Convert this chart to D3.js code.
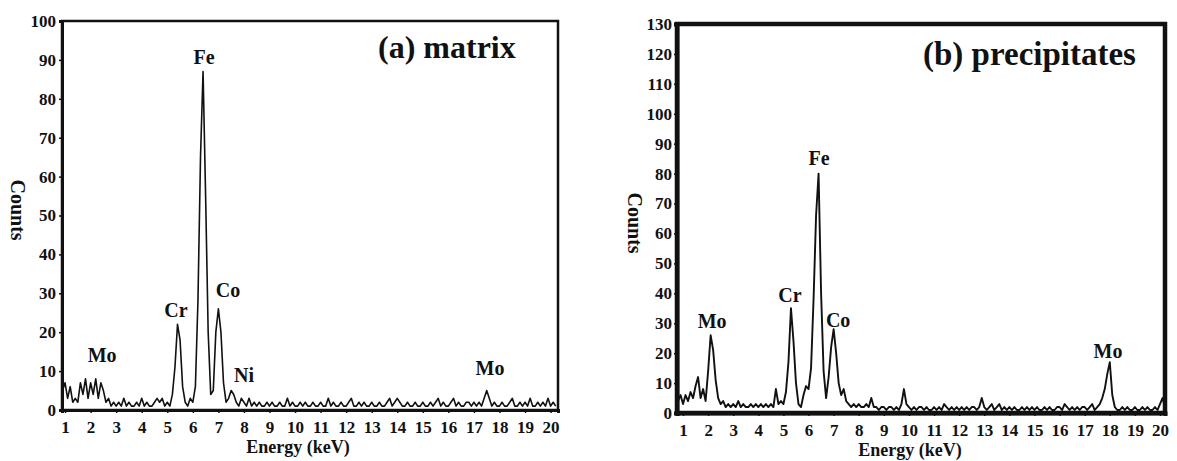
<!DOCTYPE html>
<html><head><meta charset="utf-8">
<script src="https://cdn.jsdelivr.net/npm/d3@7/dist/d3.min.js"></script>
<style>
body{margin:0;background:#fff}
text{font-family:"Liberation Serif","Times New Roman",serif;font-weight:bold;fill:#111}
</style>
</head><body>
<svg id="chart" width="1177" height="461"></svg>
<script>
// ---------- data ----------
const xTickLabels = [1,2,3,4,5,6,7,8,9,10,11,12,13,14,15,16,17,18,19,20];
const yTicksMatrix = [0,10,20,30,40,50,60,70,80,90,100];
const yTicksPrecip = [0,10,20,30,40,50,60,70,80,90,100,110,120,130];
const channelStep = 0.1;           // keV per channel
const matrixStart = 0.9;           // keV of first channel
const precipStart = 0.8;

const matrixCounts = [
  5,
  7,3,6,2,3,2,7,4,8,3,
  7,4,8,3,7,5,2,3,1,2,
  1,2,1,3,1,2,1,1,2,1,
  3,1,2,1,1,2,3,2,3,1,
  2,1,4,11,22,18,6,2,1,3,
  2,6,28,65,87,55,20,4,5,20,
  26,20,7,2,3,5,4,2,1,3,
  2,1,3,1,2,1,2,1,1,2,
  1,2,1,1,2,1,1,3,1,2,
  1,1,2,1,2,1,1,2,1,1,
  2,1,1,3,1,2,1,1,2,1,
  1,2,3,1,1,2,1,2,1,1,
  2,1,1,2,1,1,2,3,1,2,
  3,2,1,1,2,1,1,2,1,1,
  2,1,1,2,1,2,3,1,2,1,
  1,2,3,1,2,1,1,2,2,1,
  2,1,2,1,3,5,3,1,2,1,
  1,2,1,1,2,3,1,1,2,1,
  2,1,3,1,1,2,1,2,1,3,
  1,2,1
];

const precipCounts = [
  4,6,
  3,6,4,7,5,9,12,5,8,4,
  14,26,21,11,5,3,4,2,3,2,
  3,2,4,2,3,2,2,3,2,3,
  2,3,2,3,2,3,2,8,3,4,
  3,7,17,35,24,10,3,2,6,9,
  8,15,38,66,80,40,14,5,12,22,
  28,20,10,6,8,4,3,2,3,2,
  3,2,2,3,2,5,2,2,1,2,
  2,1,2,2,1,2,1,3,8,3,
  2,1,2,1,2,2,1,2,1,1,
  2,1,2,1,3,2,1,2,1,2,
  1,2,1,2,1,2,2,1,2,5,
  2,1,2,3,1,2,3,1,2,1,
  2,1,2,1,1,2,1,2,1,2,
  1,2,1,1,2,1,2,1,1,2,
  2,1,3,2,1,2,1,2,1,2,
  2,1,2,3,1,2,3,5,8,13,
  17,6,2,1,1,2,1,2,1,1,
  2,1,1,2,1,2,1,1,2,1,
  3,5,2
];

const matrixPeakNames  = ["Fe","Cr","Co","Mo","Ni","Mo"];
const matrixPeakKeV    = [6.44,5.34,7.38,2.45,8.0,17.63];
const matrixPeakCounts = [89,23.9,29,12.3,7.2,9];

const precipPeakNames  = ["Fe","Mo","Cr","Co","Mo"];
const precipPeakKeV    = [6.42,2.16,5.26,7.18,17.93];
const precipPeakCounts = [82.9,28.4,37.1,28.7,18.4];

// ---------- drawing ----------
const svg = d3.select("#chart");

const panels = [
  { title:"(a) matrix", counts:matrixCounts, start:matrixStart, yTicks:yTicksMatrix,
    xDom:[0.88,20.29], yDom:[0,100], left:62, right:558, top:21, bottom:410,
    frameW:2.5, axisW:3, lineW:1.6, titleX:378, titleY:58, titleSize:32,
    names:matrixPeakNames, keV:matrixPeakKeV, pc:matrixPeakCounts,
    xLabelX:298, xLabelY:453, yLabelX:18, yLabelY:210, xPad:8, yTickEnd:5 },
  { title:"(b) precipitates", counts:precipCounts, start:precipStart, yTicks:yTicksPrecip,
    xDom:[0.76,20.2], yDom:[0,130], left:677, right:1165, top:24, bottom:413,
    frameW:4.5, axisW:4, lineW:1.9, titleX:923, titleY:65, titleSize:33,
    names:precipPeakNames, keV:precipPeakKeV, pc:precipPeakCounts,
    xLabelX:910, xLabelY:456, yLabelX:635, yLabelY:223, xPad:8, yTickEnd:4 }
];

panels.forEach(p => {
  const x = d3.scaleLinear().domain(p.xDom).range([p.left, p.right]);
  const y = d3.scaleLinear().domain(p.yDom).range([p.bottom, p.top]);
  const g = svg.append("g");

  // frame
  g.append("rect").attr("x",p.left).attr("y",p.top)
    .attr("width",p.right-p.left).attr("height",p.bottom-p.top)
    .attr("fill","none").attr("stroke","#111").attr("stroke-width",p.frameW);

  // spectrum
  const pts = p.counts.map((c,i)=>({e:p.start+i*channelStep, c}));
  const line = d3.line().x(d=>x(d.e)).y(d=>y(d.c));
  g.append("path").datum(pts).attr("d",line)
    .attr("fill","none").attr("stroke","#111").attr("stroke-width",p.lineW)
    .attr("stroke-linejoin","round");

  // axes
  const ax = g.append("g").attr("transform",`translate(0,${p.bottom})`)
    .call(d3.axisBottom(x).tickValues(xTickLabels).tickSize(3).tickPadding(p.xPad).tickFormat(d3.format("d")));
  const ay = g.append("g").attr("transform",`translate(${p.left},0)`)
    .call(d3.axisLeft(y).tickValues(p.yTicks).tickSize(3).tickPadding(p.yTickEnd-2).tickFormat(d3.format("d")));
  [ax,ay].forEach(a=>{
    a.select(".domain").attr("stroke","#111").attr("stroke-width",p.axisW);
    a.selectAll(".tick line").attr("stroke","#111").attr("stroke-width",1.5);
    a.selectAll(".tick text").attr("fill","#111")
      .style("font-family",'"Liberation Serif","Times New Roman",serif')
      .style("font-weight","bold").style("font-size","17px");
  });

  // axis titles
  g.append("text").attr("x",p.xLabelX).attr("y",p.xLabelY)
    .attr("text-anchor","middle").style("font-size","18px").text("Energy (keV)");
  g.append("text").attr("transform",`translate(${p.yLabelX},${p.yLabelY}) rotate(90)`)
    .attr("text-anchor","middle").attr("dominant-baseline","central")
    .style("font-size","20px").text("Counts");

  // panel title
  g.append("text").attr("x",p.titleX).attr("y",p.titleY)
    .style("font-size",p.titleSize+"px").text(p.title);

  // peak labels
  p.names.forEach((n,i)=>{
    g.append("text").attr("x",x(p.keV[i])).attr("y",y(p.pc[i]))
      .attr("text-anchor","middle").style("font-size","20px").text(n);
  });
});
</script>
</body></html>
